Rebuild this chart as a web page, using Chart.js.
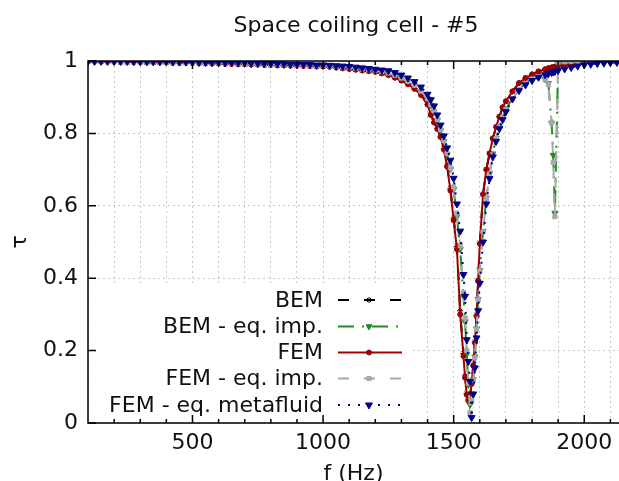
<!DOCTYPE html>
<html>
<head>
<meta charset="utf-8">
<script src="https://cdn.jsdelivr.net/npm/chart.js@4/dist/chart.umd.min.js"></script>
<style>
  html, body { margin: 0; padding: 0; background: #fff; overflow: hidden; }
  #wrap { width: 619px; height: 481px; position: relative; }
</style>
</head>
<body>
<div id="wrap"><canvas id="myChart"></canvas></div>
<script>
// frequency grid (Hz), shared by all curves
const freq = [
  100, 125, 150, 175, 200, 225, 250, 275, 300, 325, 350, 375, 400, 425, 450, 475, 500, 525, 550,
  575, 600, 625, 650, 675, 700, 725, 750, 775, 800, 825, 850, 875, 900, 925, 950, 975, 1000,
  1025, 1050, 1075, 1100, 1125, 1150, 1175, 1200, 1225, 1250, 1275, 1300, 1325, 1350, 1375, 1400,
  1412.5, 1425, 1437.5, 1450, 1462.5, 1475, 1487.5, 1500, 1512.5, 1525,
  1537.5, 1543.75, 1550, 1556.25, 1562.5, 1568.75, 1575, 1581.25, 1587.5, 1593.75, 1600,
  1612.5, 1625, 1637.5, 1650, 1662.5, 1675, 1687.5, 1700,
  1725, 1750, 1775, 1800, 1825, 1850, 1862.5, 1875, 1881.25, 1887.5, 1900, 1925, 1950, 1975, 2000, 2025, 2050, 2075, 2100, 2125
];

const tauBem = [
  0.998, 0.998, 0.998, 0.998, 0.998, 0.997, 0.997, 0.997, 0.997, 0.996, 0.996, 0.996, 0.996, 0.995, 0.995, 0.995, 0.995, 0.994, 0.994,
  0.993, 0.993, 0.992, 0.992, 0.991, 0.991, 0.990, 0.990, 0.989, 0.989, 0.988, 0.988, 0.987, 0.987, 0.986, 0.986, 0.985, 0.985,
  0.984, 0.982, 0.980, 0.978, 0.976, 0.974, 0.972, 0.970, 0.966, 0.961, 0.954, 0.946, 0.936, 0.923, 0.906, 0.880,
  0.853, 0.832, 0.814, 0.792, 0.758, 0.712, 0.648, 0.566, 0.488, 0.310,
  0.192, 0.130, 0.082, 0.066, 0.075, 0.110, 0.160, 0.225, 0.298, 0.395, 0.498,
  0.632, 0.700, 0.745, 0.786, 0.818, 0.846, 0.872, 0.889,
  0.916, 0.939, 0.953, 0.963, 0.971, 0.977, 0.980, 0.982, 0.983, 0.984, 0.986, 0.989, 0.992, 0.994, 0.996, 0.997, 0.998, 0.998, 0.999, 0.999
];

const tauBemImp = [
  0.999, 0.999, 0.999, 0.999, 0.998, 0.998, 0.998, 0.998, 0.998, 0.997, 0.997, 0.997, 0.997, 0.996, 0.996, 0.996, 0.996, 0.995, 0.995,
  0.995, 0.995, 0.994, 0.994, 0.993, 0.993, 0.992, 0.992, 0.991, 0.991, 0.990, 0.990, 0.989, 0.989, 0.988, 0.988, 0.987, 0.987,
  0.986, 0.985, 0.984, 0.982, 0.980, 0.978, 0.976, 0.974, 0.971, 0.967, 0.961, 0.953, 0.944, 0.933, 0.917, 0.896,
  0.878, 0.860, 0.836, 0.808, 0.778, 0.742, 0.700, 0.645, 0.570, 0.480,
  0.350, 0.280, 0.190, 0.105, 0.050, 0.070, 0.120, 0.183, 0.260, 0.342, 0.422,
  0.530, 0.622, 0.690, 0.744, 0.787, 0.819, 0.846, 0.867,
  0.897, 0.921, 0.938, 0.951, 0.958, 0.950, 0.938, 0.828, 0.740, 0.580, 0.992, 0.996, 0.998, 0.999, 0.999, 1.000, 1.000, 1.000, 1.000, 1.000
];

const tauFem = [
  0.998, 0.998, 0.998, 0.998, 0.998, 0.997, 0.997, 0.997, 0.997, 0.996, 0.996, 0.996, 0.996, 0.995, 0.995, 0.995, 0.995, 0.994, 0.994,
  0.993, 0.993, 0.992, 0.992, 0.991, 0.991, 0.990, 0.990, 0.989, 0.989, 0.988, 0.988, 0.987, 0.987, 0.986, 0.986, 0.985, 0.985,
  0.984, 0.982, 0.980, 0.978, 0.976, 0.974, 0.972, 0.970, 0.966, 0.961, 0.954, 0.946, 0.936, 0.923, 0.906, 0.880,
  0.851, 0.830, 0.812, 0.790, 0.755, 0.708, 0.642, 0.560, 0.480, 0.300,
  0.185, 0.125, 0.078, 0.062, 0.072, 0.108, 0.158, 0.222, 0.295, 0.392, 0.495,
  0.632, 0.700, 0.745, 0.786, 0.818, 0.846, 0.872, 0.889,
  0.916, 0.939, 0.953, 0.963, 0.971, 0.977, 0.980, 0.982, 0.983, 0.984, 0.986, 0.989, 0.992, 0.994, 0.996, 0.997, 0.998, 0.998, 0.999, 0.999
];

const tauFemImp = [
  0.999, 0.999, 0.999, 0.999, 0.998, 0.998, 0.998, 0.998, 0.998, 0.997, 0.997, 0.997, 0.997, 0.996, 0.996, 0.996, 0.996, 0.995, 0.995,
  0.995, 0.995, 0.994, 0.994, 0.993, 0.993, 0.992, 0.992, 0.991, 0.991, 0.990, 0.990, 0.989, 0.989, 0.988, 0.988, 0.987, 0.987,
  0.986, 0.985, 0.984, 0.982, 0.980, 0.978, 0.976, 0.974, 0.971, 0.967, 0.961, 0.953, 0.944, 0.933, 0.917, 0.896,
  0.880, 0.862, 0.838, 0.810, 0.780, 0.745, 0.705, 0.652, 0.580, 0.490,
  0.360, 0.290, 0.200, 0.110, 0.028, 0.065, 0.118, 0.180, 0.258, 0.340, 0.420,
  0.528, 0.620, 0.688, 0.742, 0.786, 0.818, 0.845, 0.866,
  0.896, 0.920, 0.937, 0.950, 0.957, 0.948, 0.935, 0.830, 0.720, 0.570, 0.997, 0.998, 0.999, 0.999, 1.000, 1.000, 1.000, 1.000, 1.000, 1.000
];

const tauMeta = [
  0.999, 0.999, 0.999, 0.999, 0.999, 0.999, 0.999, 0.998, 0.998, 0.998, 0.998, 0.998, 0.998, 0.997, 0.997, 0.997, 0.997, 0.996, 0.996,
  0.996, 0.996, 0.995, 0.995, 0.995, 0.995, 0.994, 0.994, 0.993, 0.993, 0.992, 0.992, 0.991, 0.991, 0.990, 0.990, 0.989, 0.989,
  0.988, 0.987, 0.986, 0.985, 0.983, 0.981, 0.979, 0.977, 0.975, 0.973, 0.968, 0.961, 0.953, 0.943, 0.928, 0.908,
  0.893, 0.876, 0.851, 0.823, 0.793, 0.760, 0.726, 0.676, 0.605, 0.530,
  0.410, 0.350, 0.230, 0.170, 0.115, 0.015, 0.080, 0.152, 0.235, 0.310, 0.386,
  0.500, 0.605, 0.675, 0.735, 0.778, 0.813, 0.838, 0.860,
  0.895, 0.918, 0.934, 0.946, 0.955, 0.962, 0.965, 0.968, 0.970, 0.971, 0.974, 0.978, 0.982, 0.986, 0.989, 0.991, 0.993, 0.994, 0.995, 0.996
];

const seriesLabels = ["BEM", "BEM - eq. imp.", "FEM", "FEM - eq. imp.", "FEM - eq. metafluid"];
const yTicks = [0, 0.2, 0.4, 0.6, 0.8, 1];

const pts = (ys) => freq.map((f, i) => ({ x: f, y: ys[i] }));

Chart.defaults.font.family = "'DejaVu Sans', sans-serif";
Chart.defaults.font.size = 22;
Chart.defaults.color = "#111";

const styles = [
  { color: "#000000", dash: [11, 15], style: "star", r: 3, rot: 0 },
  { color: "#228b22", dash: [16, 8, 2, 8], style: "triangle", r: 3.5, rot: 180 },
  { color: "#a00000", dash: [], style: "circle", r: 2.5, rot: 0 },
  { color: "#a8a8a8", dash: [11, 15], style: "rect", r: 3, rot: 0 },
  { color: "#00008b", dash: [2, 8], style: "triangle", r: 4, rot: 180 }
];
const allSeries = [tauBem, tauBemImp, tauFem, tauFemImp, tauMeta];

const datasets = allSeries.map((ys, i) => ({
  label: seriesLabels[i],
  data: pts(ys),
  borderColor: styles[i].color,
  backgroundColor: styles[i].color,
  borderWidth: 2,
  borderDash: styles[i].dash,
  pointStyle: styles[i].style,
  pointRadius: styles[i].r,
  pointRotation: styles[i].rot,
  pointBackgroundColor: styles[i].color,
  pointBorderColor: styles[i].color,
  pointBorderWidth: 1,
  tension: 0,
  fill: false,
  order: 5 - i
}));

// frame, inward ticks, legend box and title, gnuplot style
const gnuplotLook = {
  id: "gnuplotLook",
  afterDatasetsDraw(chart) {
    const { ctx, chartArea: a, scales: { x, y } } = chart;
    ctx.save();

    // opaque key box
    ctx.fillStyle = "#fff";
    ctx.fillRect(a.left + 1, 286, 322, a.bottom - 287);

    // key entries
    ctx.font = "22px 'DejaVu Sans'";
    ctx.textAlign = "right";
    ctx.textBaseline = "middle";
    const rowY = [300, 326.5, 352.5, 378.5, 405];
    seriesLabels.forEach((lab, i) => {
      const yy = rowY[i];
      ctx.fillStyle = "#111";
      ctx.fillText(lab, 323, yy + 1);
      ctx.save();
      ctx.strokeStyle = styles[i].color;
      ctx.lineWidth = 2;
      ctx.setLineDash(styles[i].dash);
      ctx.beginPath();
      ctx.moveTo(338, yy);
      ctx.lineTo(402, yy);
      ctx.stroke();
      ctx.restore();
      ctx.save();
      ctx.setLineDash([]);
      ctx.fillStyle = styles[i].color;
      ctx.strokeStyle = styles[i].color;
      ctx.lineWidth = 1;
      Chart.helpers.drawPoint(ctx, { pointStyle: styles[i].style, radius: styles[i].r, rotation: styles[i].rot, borderWidth: 1 }, 369, yy);
      ctx.restore();
    });

    // frame
    ctx.setLineDash([]);
    ctx.strokeStyle = "#000";
    ctx.lineWidth = 1.5;
    ctx.beginPath();
    ctx.moveTo(a.right + 2, a.top);
    ctx.lineTo(a.left, a.top);
    ctx.lineTo(a.left, a.bottom);
    ctx.lineTo(a.right + 2, a.bottom);
    ctx.stroke();

    // inward ticks
    ctx.beginPath();
    for (let f = 200; f <= 2100; f += 100) {
      const px = x.getPixelForValue(f);
      const len = f % 500 === 0 ? 8 : 4;
      ctx.moveTo(px, a.bottom);
      ctx.lineTo(px, a.bottom - len);
      ctx.moveTo(px, a.top);
      ctx.lineTo(px, a.top + len);
    }
    yTicks.forEach(v => {
      const py = y.getPixelForValue(v);
      ctx.moveTo(a.left, py);
      ctx.lineTo(a.left + 8, py);
    });
    ctx.stroke();

    // title, centred over the (cropped) plot
    ctx.fillStyle = "#111";
    ctx.textAlign = "center";
    ctx.textBaseline = "middle";
    ctx.fillText("Space coiling cell - #5", 356, 26);
    ctx.restore();
  }
};

new Chart(document.getElementById("myChart"), {
  type: "line",
  data: { datasets: datasets },
  options: {
    responsive: true,
    maintainAspectRatio: false,
    animation: false,
    layout: { autoPadding: false, padding: { top: 61, left: 0, right: 0, bottom: 0 } },
    plugins: { legend: { display: false }, tooltip: { enabled: false } },
    scales: {
      x: {
        type: "linear",
        min: 100,
        max: 2133,
        bounds: "data",
        afterFit: (s) => { s.height = 58; s.paddingLeft = 0; s.paddingRight = 0; },
        ticks: {
          stepSize: 100,
          autoSkip: false,
          maxRotation: 0,
          includeBounds: false,
          padding: 0,
          font: { size: 22, lineHeight: 1.82 },
          callback: (v) => (v % 500 === 0 ? String(v) : "")
        },
        grid: { color: "#c8c8c8", lineWidth: 1, drawTicks: false },
        border: { display: false, dash: [2, 3] },
        title: { display: true, text: "f (Hz)", padding: { top: 0, bottom: -6 } }
      },
      y: {
        min: 0,
        max: 1,
        afterFit: (s) => { s.width = 88; s.paddingTop = 0; s.paddingBottom = 0; },
        ticks: { stepSize: 0.2, padding: 10, callback: (v) => String(Number(v.toFixed(1))) },
        grid: { color: "#c8c8c8", lineWidth: 1, drawTicks: false },
        border: { display: false, dash: [2, 3] },
        title: { display: true, text: "τ", padding: { top: 7, bottom: 0 } }
      }
    }
  },
  plugins: [gnuplotLook]
});
</script>
</body>
</html>
